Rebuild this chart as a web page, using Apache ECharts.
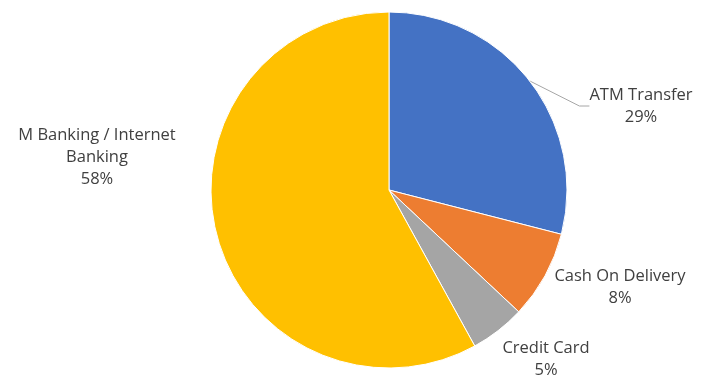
<!DOCTYPE html>
<html>
<head>
<meta charset="utf-8">
<script src="https://cdn.jsdelivr.net/npm/echarts@6/dist/echarts.min.js"></script>
<style>html,body{margin:0;padding:0;background:#fff;}#c{width:706px;height:377px;}</style>
</head>
<body>
<div id="c"></div>
<script>
const categories = ['ATM Transfer', 'Cash On Delivery', 'Credit Card', 'M Banking / Internet Banking'];
const values = [29, 8, 5, 58];
const colors = ['#4472C4', '#ED7D31', '#A5A5A5', '#FFC000'];
const labelPos = [[641, 106], [620, 287], [546, 359], [97, 157]];
const showLine = [true, false, false, false];

const chart = echarts.init(document.getElementById('c'));
chart.setOption({
  animation: false,
  series: [{
    type: 'pie',
    center: [389, 190],
    radius: [0, 178],
    startAngle: 90,
    clockwise: true,
    data: categories.map((n, i) => ({
      name: n, value: values[i],
      itemStyle: { color: colors[i] },
      labelLine: { show: showLine[i] }
    })),
    itemStyle: { borderColor: '#fff', borderWidth: 1 },
    label: {
      show: true,
      position: 'outside',
      overflow: 'none',
      bleedMargin: 0,
      formatter: p => p.name.replace(' Internet Banking', ' Internet\nBanking') + '\n' + p.percent.toFixed(0) + '%',
      fontFamily: 'Open Sans',
      fontSize: 16.5,
      lineHeight: 22,
      color: '#404040',
      align: 'center'
    },
    labelLine: { lineStyle: { color: '#A6A6A6', width: 1 }, length: 10, length2: 10 },
    labelLayout: function (params) {
      const p = labelPos[params.dataIndex];
      return { x: p[0], y: p[1], align: 'center', verticalAlign: 'middle' };
    }
  }]
});
</script>
</body>
</html>
